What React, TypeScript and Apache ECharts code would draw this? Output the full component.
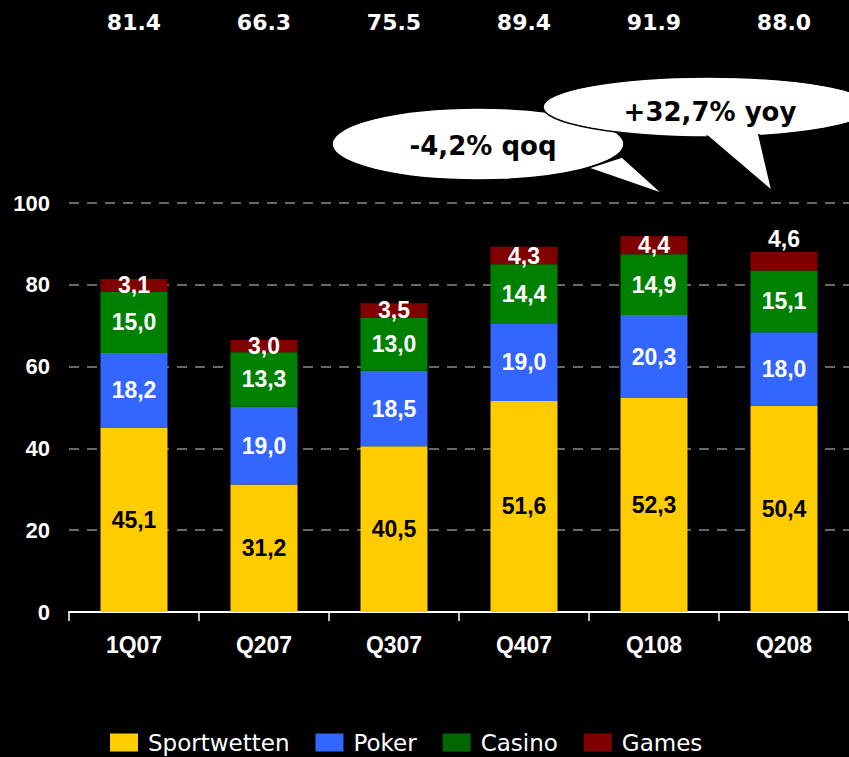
import React, { useEffect, useRef } from "react";
import * as echarts from "echarts";

const categories = ["1Q07", "Q207", "Q307", "Q407", "Q108", "Q208"];
const sportwetten = [45.1, 31.2, 40.5, 51.6, 52.3, 50.4];
const poker = [18.2, 19.0, 18.5, 19.0, 20.3, 18.0];
const casino = [15.0, 13.3, 13.0, 14.4, 14.9, 15.1];
const games = [3.1, 3.0, 3.5, 4.3, 4.4, 4.6];
const totals = ["81.4", "66.3", "75.5", "89.4", "91.9", "88.0"];
const bubbleTexts = ["-4,2% qoq", "+32,7% yoy"];

const fmt = (p: any) => Number(p.value).toFixed(1).replace(".", ",");
const ARIAL = "Liberation Sans";
const WIDE = "DejaVu Sans";

export default function App() {
  const ref = useRef<HTMLDivElement>(null);
  useEffect(() => {
    document.body.style.margin = "0";
    document.body.style.background = "#000";
    const chart = echarts.init(ref.current!, null, { renderer: "svg" });
    const barLabel = (color: string) => ({
      show: true,
      position: "inside",
      formatter: fmt,
      color,
      fontFamily: ARIAL,
      fontWeight: "bold",
      fontSize: 23,
    });
    const gamesData = games.map((v, i) =>
      i === games.length - 1
        ? { value: v, label: { position: "top", distance: 1 } }
        : v
    );
    chart.setOption({
      animation: false,
      backgroundColor: "#000",
      grid: { left: 69, right: 0, top: 203, bottom: 145, containLabel: false },
      legend: {
        left: 105,
        top: 726,
        itemWidth: 28,
        itemHeight: 18,
        itemGap: 26,
        icon: "rect",
        textStyle: {
          color: "#fff",
          fontFamily: WIDE,
          fontSize: 23,
          padding: [0, 0, 0, 5],
        },
        data: [
          { name: "Sportwetten" },
          { name: "Poker" },
          { name: "Casino", itemStyle: { color: "#006600" } },
          { name: "Games" },
        ],
      },
      xAxis: [
        {
          type: "category",
          data: categories,
          axisLine: { lineStyle: { color: "#fff", width: 2 } },
          axisTick: { show: true, length: 9, lineStyle: { color: "#fff", width: 1.5 } },
          axisLabel: {
            color: "#fff",
            fontFamily: ARIAL,
            fontWeight: "bold",
            fontSize: 23,
            margin: 21,
          },
        },
        {
          type: "category",
          position: "top",
          data: totals,
          axisLine: { show: false },
          axisTick: { show: false },
          axisLabel: {
            color: "#fff",
            fontFamily: WIDE,
            fontWeight: "bold",
            fontSize: 22,
            margin: 170,
          },
        },
      ],
      yAxis: {
        type: "value",
        min: 0,
        max: 100,
        interval: 20,
        axisLine: { show: false },
        axisTick: { show: false },
        axisLabel: {
          color: "#fff",
          fontFamily: ARIAL,
          fontWeight: "bold",
          fontSize: 22,
          margin: 19,
        },
        splitLine: {
          lineStyle: { color: "#8a8a8a", type: [10, 8], width: 1.5 },
        },
      },
      series: [
        {
          name: "Sportwetten",
          type: "bar",
          stack: "t",
          barWidth: 67,
          data: sportwetten,
          itemStyle: { color: "#FFCC00" },
          label: barLabel("#000"),
        },
        {
          name: "Poker",
          type: "bar",
          stack: "t",
          data: poker,
          itemStyle: { color: "#3366FF" },
          label: barLabel("#fff"),
        },
        {
          name: "Casino",
          type: "bar",
          stack: "t",
          data: casino,
          itemStyle: { color: "#008000" },
          label: barLabel("#fff"),
        },
        {
          name: "Games",
          type: "bar",
          stack: "t",
          data: gamesData,
          itemStyle: { color: "#800000" },
          label: barLabel("#fff"),
        },
      ],
      graphic: [
        {
          type: "ellipse",
          shape: { cx: 478, cy: 144, rx: 146, ry: 36 },
          style: { fill: "#fff", stroke: "#000", lineWidth: 1.5 },
          z: 100,
        },
        {
          type: "polygon",
          shape: { points: [[588, 168], [622, 157], [663, 194]] },
          style: { fill: "#fff", stroke: "#000", lineWidth: 1.5 },
          z: 101,
        },
        {
          type: "ellipse",
          shape: { cx: 478, cy: 144, rx: 144.5, ry: 34.5 },
          style: { fill: "#fff" },
          z: 102,
        },
        {
          type: "text",
          x: 483,
          y: 146,
          style: {
            text: bubbleTexts[0],
            font: "bold 26px DejaVu Sans",
            fill: "#000",
            align: "center",
            verticalAlign: "middle",
          },
          z: 103,
        },
        {
          type: "ellipse",
          shape: { cx: 708, cy: 107, rx: 165, ry: 30 },
          style: { fill: "#fff", stroke: "#000", lineWidth: 1.5 },
          z: 110,
        },
        {
          type: "polygon",
          shape: { points: [[704, 133], [758, 131], [772, 191]] },
          style: { fill: "#fff", stroke: "#000", lineWidth: 1.5 },
          z: 111,
        },
        {
          type: "ellipse",
          shape: { cx: 708, cy: 107, rx: 163.5, ry: 28.5 },
          style: { fill: "#fff" },
          z: 112,
        },
        {
          type: "text",
          x: 710,
          y: 112,
          style: {
            text: bubbleTexts[1],
            font: "bold 26px DejaVu Sans",
            fill: "#000",
            align: "center",
            verticalAlign: "middle",
          },
          z: 113,
        },
      ],
    });
    return () => chart.dispose();
  }, []);
  return <div ref={ref} style={{ width: 849, height: 757, background: "#000" }} />;
}
